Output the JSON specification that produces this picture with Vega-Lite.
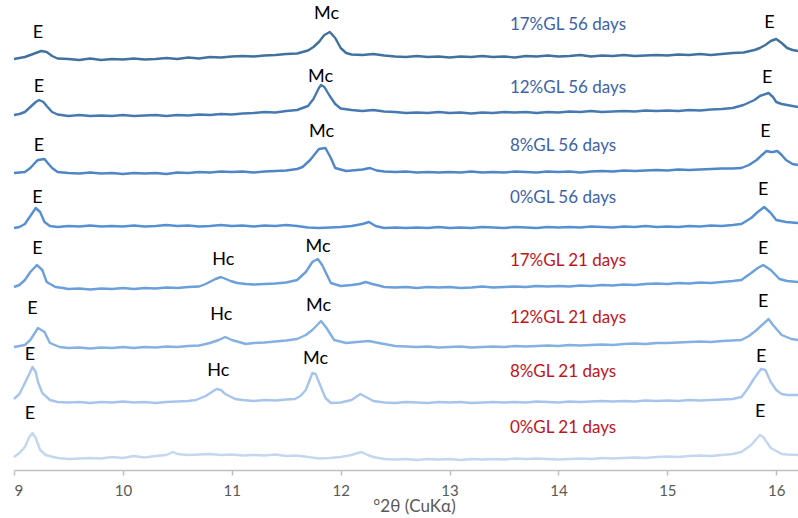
{
"$schema": "https://vega.github.io/schema/vega-lite/v6.json",
"width": 784, "height": 470,
"autosize": {"type": "none"},
"padding": {"left": 14, "top": 0, "right": 0, "bottom": 48},
"config": {"view": {"stroke": null}, "font": "Lato"},
"datasets": {
"traces": [
{"s":"17%GL 56 days","x":9.0,"y":411},{"s":"17%GL 56 days","x":9.1,"y":413},{"s":"17%GL 56 days","x":9.15,"y":415},{"s":"17%GL 56 days","x":9.2,"y":417},{"s":"17%GL 56 days","x":9.25,"y":419},{"s":"17%GL 56 days","x":9.3,"y":418},{"s":"17%GL 56 days","x":9.35,"y":414},{"s":"17%GL 56 days","x":9.4,"y":411.5},{"s":"17%GL 56 days","x":9.5,"y":411},{"s":"17%GL 56 days","x":9.6,"y":410},{"s":"17%GL 56 days","x":9.7,"y":411.5},{"s":"17%GL 56 days","x":9.8,"y":410},{"s":"17%GL 56 days","x":9.9,"y":411},{"s":"17%GL 56 days","x":10.0,"y":410.5},{"s":"17%GL 56 days","x":10.1,"y":411.5},{"s":"17%GL 56 days","x":10.2,"y":410.5},{"s":"17%GL 56 days","x":10.3,"y":411},{"s":"17%GL 56 days","x":10.4,"y":412},{"s":"17%GL 56 days","x":10.5,"y":411},{"s":"17%GL 56 days","x":10.6,"y":412.5},{"s":"17%GL 56 days","x":10.7,"y":411.5},{"s":"17%GL 56 days","x":10.8,"y":413},{"s":"17%GL 56 days","x":10.9,"y":412.5},{"s":"17%GL 56 days","x":11.0,"y":413.5},{"s":"17%GL 56 days","x":11.1,"y":414},{"s":"17%GL 56 days","x":11.2,"y":413.5},{"s":"17%GL 56 days","x":11.3,"y":414.5},{"s":"17%GL 56 days","x":11.4,"y":415},{"s":"17%GL 56 days","x":11.5,"y":416},{"s":"17%GL 56 days","x":11.6,"y":416.5},{"s":"17%GL 56 days","x":11.7,"y":419.5},{"s":"17%GL 56 days","x":11.75,"y":423},{"s":"17%GL 56 days","x":11.8,"y":428},{"s":"17%GL 56 days","x":11.85,"y":435},{"s":"17%GL 56 days","x":11.9,"y":438},{"s":"17%GL 56 days","x":11.95,"y":432},{"s":"17%GL 56 days","x":12.0,"y":422},{"s":"17%GL 56 days","x":12.05,"y":417},{"s":"17%GL 56 days","x":12.1,"y":415.5},{"s":"17%GL 56 days","x":12.2,"y":415},{"s":"17%GL 56 days","x":12.3,"y":416},{"s":"17%GL 56 days","x":12.4,"y":414.5},{"s":"17%GL 56 days","x":12.5,"y":413.5},{"s":"17%GL 56 days","x":12.6,"y":413},{"s":"17%GL 56 days","x":12.7,"y":414},{"s":"17%GL 56 days","x":12.8,"y":413},{"s":"17%GL 56 days","x":12.9,"y":413.5},{"s":"17%GL 56 days","x":13.0,"y":412.5},{"s":"17%GL 56 days","x":13.1,"y":413.5},{"s":"17%GL 56 days","x":13.2,"y":413},{"s":"17%GL 56 days","x":13.3,"y":414},{"s":"17%GL 56 days","x":13.4,"y":413},{"s":"17%GL 56 days","x":13.5,"y":413.5},{"s":"17%GL 56 days","x":13.6,"y":412.5},{"s":"17%GL 56 days","x":13.7,"y":414},{"s":"17%GL 56 days","x":13.8,"y":413.5},{"s":"17%GL 56 days","x":13.9,"y":414.5},{"s":"17%GL 56 days","x":14.0,"y":413.5},{"s":"17%GL 56 days","x":14.1,"y":414},{"s":"17%GL 56 days","x":14.2,"y":415},{"s":"17%GL 56 days","x":14.3,"y":413.5},{"s":"17%GL 56 days","x":14.4,"y":414.5},{"s":"17%GL 56 days","x":14.5,"y":414},{"s":"17%GL 56 days","x":14.6,"y":415},{"s":"17%GL 56 days","x":14.7,"y":414},{"s":"17%GL 56 days","x":14.8,"y":414.5},{"s":"17%GL 56 days","x":14.9,"y":415},{"s":"17%GL 56 days","x":15.0,"y":414.5},{"s":"17%GL 56 days","x":15.1,"y":415.5},{"s":"17%GL 56 days","x":15.2,"y":415},{"s":"17%GL 56 days","x":15.3,"y":416},{"s":"17%GL 56 days","x":15.4,"y":415},{"s":"17%GL 56 days","x":15.5,"y":416},{"s":"17%GL 56 days","x":15.6,"y":417},{"s":"17%GL 56 days","x":15.7,"y":417.5},{"s":"17%GL 56 days","x":15.8,"y":420},{"s":"17%GL 56 days","x":15.85,"y":422},{"s":"17%GL 56 days","x":15.9,"y":425},{"s":"17%GL 56 days","x":15.95,"y":429},{"s":"17%GL 56 days","x":16.0,"y":431},{"s":"17%GL 56 days","x":16.05,"y":427},{"s":"17%GL 56 days","x":16.1,"y":422},{"s":"17%GL 56 days","x":16.15,"y":420},{"s":"17%GL 56 days","x":16.2,"y":419},

{"s":"12%GL 56 days","x":9.0,"y":355},{"s":"12%GL 56 days","x":9.05,"y":356},{"s":"12%GL 56 days","x":9.1,"y":358},{"s":"12%GL 56 days","x":9.15,"y":363},{"s":"12%GL 56 days","x":9.2,"y":368},{"s":"12%GL 56 days","x":9.23,"y":370},{"s":"12%GL 56 days","x":9.27,"y":368},{"s":"12%GL 56 days","x":9.3,"y":364},{"s":"12%GL 56 days","x":9.35,"y":358},{"s":"12%GL 56 days","x":9.4,"y":355.5},{"s":"12%GL 56 days","x":9.5,"y":354},{"s":"12%GL 56 days","x":9.6,"y":355},{"s":"12%GL 56 days","x":9.7,"y":354},{"s":"12%GL 56 days","x":9.8,"y":354.5},{"s":"12%GL 56 days","x":9.9,"y":354},{"s":"12%GL 56 days","x":10.0,"y":355},{"s":"12%GL 56 days","x":10.1,"y":354},{"s":"12%GL 56 days","x":10.2,"y":354.5},{"s":"12%GL 56 days","x":10.3,"y":355},{"s":"12%GL 56 days","x":10.4,"y":354},{"s":"12%GL 56 days","x":10.5,"y":355},{"s":"12%GL 56 days","x":10.6,"y":354.5},{"s":"12%GL 56 days","x":10.7,"y":355.5},{"s":"12%GL 56 days","x":10.8,"y":355},{"s":"12%GL 56 days","x":10.9,"y":356},{"s":"12%GL 56 days","x":11.0,"y":355.5},{"s":"12%GL 56 days","x":11.1,"y":356.5},{"s":"12%GL 56 days","x":11.2,"y":357},{"s":"12%GL 56 days","x":11.3,"y":358},{"s":"12%GL 56 days","x":11.4,"y":357.5},{"s":"12%GL 56 days","x":11.5,"y":359},{"s":"12%GL 56 days","x":11.6,"y":360},{"s":"12%GL 56 days","x":11.7,"y":364},{"s":"12%GL 56 days","x":11.75,"y":371},{"s":"12%GL 56 days","x":11.8,"y":382},{"s":"12%GL 56 days","x":11.82,"y":385},{"s":"12%GL 56 days","x":11.85,"y":383},{"s":"12%GL 56 days","x":11.9,"y":374},{"s":"12%GL 56 days","x":11.95,"y":366},{"s":"12%GL 56 days","x":12.0,"y":361.5},{"s":"12%GL 56 days","x":12.1,"y":360},{"s":"12%GL 56 days","x":12.2,"y":359},{"s":"12%GL 56 days","x":12.3,"y":360},{"s":"12%GL 56 days","x":12.4,"y":358.5},{"s":"12%GL 56 days","x":12.5,"y":358},{"s":"12%GL 56 days","x":12.6,"y":357},{"s":"12%GL 56 days","x":12.7,"y":357.5},{"s":"12%GL 56 days","x":12.8,"y":357},{"s":"12%GL 56 days","x":12.9,"y":358},{"s":"12%GL 56 days","x":13.0,"y":357},{"s":"12%GL 56 days","x":13.1,"y":357.5},{"s":"12%GL 56 days","x":13.2,"y":356.5},{"s":"12%GL 56 days","x":13.3,"y":357.5},{"s":"12%GL 56 days","x":13.4,"y":357},{"s":"12%GL 56 days","x":13.5,"y":358},{"s":"12%GL 56 days","x":13.6,"y":357.5},{"s":"12%GL 56 days","x":13.7,"y":358},{"s":"12%GL 56 days","x":13.8,"y":357},{"s":"12%GL 56 days","x":13.9,"y":358},{"s":"12%GL 56 days","x":14.0,"y":357.5},{"s":"12%GL 56 days","x":14.1,"y":358.5},{"s":"12%GL 56 days","x":14.2,"y":358},{"s":"12%GL 56 days","x":14.3,"y":359},{"s":"12%GL 56 days","x":14.4,"y":358},{"s":"12%GL 56 days","x":14.5,"y":358.5},{"s":"12%GL 56 days","x":14.6,"y":359},{"s":"12%GL 56 days","x":14.7,"y":358.5},{"s":"12%GL 56 days","x":14.8,"y":359.5},{"s":"12%GL 56 days","x":14.9,"y":359},{"s":"12%GL 56 days","x":15.0,"y":359.5},{"s":"12%GL 56 days","x":15.1,"y":359},{"s":"12%GL 56 days","x":15.2,"y":360},{"s":"12%GL 56 days","x":15.3,"y":359.5},{"s":"12%GL 56 days","x":15.4,"y":360.5},{"s":"12%GL 56 days","x":15.5,"y":361},{"s":"12%GL 56 days","x":15.6,"y":362},{"s":"12%GL 56 days","x":15.7,"y":365},{"s":"12%GL 56 days","x":15.8,"y":370},{"s":"12%GL 56 days","x":15.85,"y":374},{"s":"12%GL 56 days","x":15.93,"y":377},{"s":"12%GL 56 days","x":15.97,"y":373},{"s":"12%GL 56 days","x":16.0,"y":368},{"s":"12%GL 56 days","x":16.05,"y":366},{"s":"12%GL 56 days","x":16.1,"y":365},{"s":"12%GL 56 days","x":16.2,"y":363},

{"s":"8%GL 56 days","x":9.0,"y":297},{"s":"8%GL 56 days","x":9.1,"y":298},{"s":"8%GL 56 days","x":9.15,"y":302},{"s":"8%GL 56 days","x":9.2,"y":308},{"s":"8%GL 56 days","x":9.22,"y":310},{"s":"8%GL 56 days","x":9.28,"y":311},{"s":"8%GL 56 days","x":9.31,"y":307},{"s":"8%GL 56 days","x":9.35,"y":302},{"s":"8%GL 56 days","x":9.4,"y":298},{"s":"8%GL 56 days","x":9.5,"y":297},{"s":"8%GL 56 days","x":9.6,"y":296.5},{"s":"8%GL 56 days","x":9.7,"y":297.5},{"s":"8%GL 56 days","x":9.8,"y":296.5},{"s":"8%GL 56 days","x":9.9,"y":297},{"s":"8%GL 56 days","x":10.0,"y":296},{"s":"8%GL 56 days","x":10.1,"y":297},{"s":"8%GL 56 days","x":10.2,"y":296.5},{"s":"8%GL 56 days","x":10.3,"y":297},{"s":"8%GL 56 days","x":10.4,"y":296},{"s":"8%GL 56 days","x":10.5,"y":297.5},{"s":"8%GL 56 days","x":10.6,"y":297},{"s":"8%GL 56 days","x":10.7,"y":298},{"s":"8%GL 56 days","x":10.8,"y":297.5},{"s":"8%GL 56 days","x":10.9,"y":298.5},{"s":"8%GL 56 days","x":11.0,"y":298},{"s":"8%GL 56 days","x":11.1,"y":298.5},{"s":"8%GL 56 days","x":11.2,"y":297.5},{"s":"8%GL 56 days","x":11.3,"y":298.5},{"s":"8%GL 56 days","x":11.4,"y":299},{"s":"8%GL 56 days","x":11.5,"y":299.5},{"s":"8%GL 56 days","x":11.6,"y":301},{"s":"8%GL 56 days","x":11.65,"y":303},{"s":"8%GL 56 days","x":11.72,"y":310},{"s":"8%GL 56 days","x":11.8,"y":321},{"s":"8%GL 56 days","x":11.86,"y":322},{"s":"8%GL 56 days","x":11.91,"y":312},{"s":"8%GL 56 days","x":11.95,"y":302},{"s":"8%GL 56 days","x":12.05,"y":299},{"s":"8%GL 56 days","x":12.1,"y":299.5},{"s":"8%GL 56 days","x":12.2,"y":300.5},{"s":"8%GL 56 days","x":12.27,"y":302},{"s":"8%GL 56 days","x":12.33,"y":299.5},{"s":"8%GL 56 days","x":12.4,"y":298.5},{"s":"8%GL 56 days","x":12.5,"y":298},{"s":"8%GL 56 days","x":12.6,"y":298.5},{"s":"8%GL 56 days","x":12.7,"y":297.5},{"s":"8%GL 56 days","x":12.8,"y":298},{"s":"8%GL 56 days","x":12.9,"y":297.5},{"s":"8%GL 56 days","x":13.0,"y":298},{"s":"8%GL 56 days","x":13.1,"y":297.5},{"s":"8%GL 56 days","x":13.2,"y":298.5},{"s":"8%GL 56 days","x":13.3,"y":297.5},{"s":"8%GL 56 days","x":13.4,"y":298},{"s":"8%GL 56 days","x":13.5,"y":297.5},{"s":"8%GL 56 days","x":13.6,"y":298.5},{"s":"8%GL 56 days","x":13.7,"y":298},{"s":"8%GL 56 days","x":13.8,"y":297.5},{"s":"8%GL 56 days","x":13.9,"y":298.5},{"s":"8%GL 56 days","x":14.0,"y":298},{"s":"8%GL 56 days","x":14.1,"y":298.5},{"s":"8%GL 56 days","x":14.2,"y":297.5},{"s":"8%GL 56 days","x":14.3,"y":298.5},{"s":"8%GL 56 days","x":14.4,"y":299},{"s":"8%GL 56 days","x":14.5,"y":298.5},{"s":"8%GL 56 days","x":14.6,"y":299.5},{"s":"8%GL 56 days","x":14.7,"y":299},{"s":"8%GL 56 days","x":14.8,"y":299.5},{"s":"8%GL 56 days","x":14.9,"y":300},{"s":"8%GL 56 days","x":15.0,"y":299.5},{"s":"8%GL 56 days","x":15.1,"y":300.5},{"s":"8%GL 56 days","x":15.2,"y":300},{"s":"8%GL 56 days","x":15.3,"y":300.5},{"s":"8%GL 56 days","x":15.4,"y":301},{"s":"8%GL 56 days","x":15.5,"y":301.5},{"s":"8%GL 56 days","x":15.6,"y":301.5},{"s":"8%GL 56 days","x":15.68,"y":302},{"s":"8%GL 56 days","x":15.75,"y":305},{"s":"8%GL 56 days","x":15.82,"y":310},{"s":"8%GL 56 days","x":15.91,"y":319},{"s":"8%GL 56 days","x":15.95,"y":318},{"s":"8%GL 56 days","x":15.97,"y":318},{"s":"8%GL 56 days","x":16.01,"y":319},{"s":"8%GL 56 days","x":16.05,"y":315},{"s":"8%GL 56 days","x":16.09,"y":310},{"s":"8%GL 56 days","x":16.15,"y":306},{"s":"8%GL 56 days","x":16.2,"y":305},

{"s":"0%GL 56 days","x":9.0,"y":242},{"s":"0%GL 56 days","x":9.05,"y":243},{"s":"0%GL 56 days","x":9.1,"y":246},{"s":"0%GL 56 days","x":9.15,"y":254},{"s":"0%GL 56 days","x":9.2,"y":262},{"s":"0%GL 56 days","x":9.24,"y":258},{"s":"0%GL 56 days","x":9.28,"y":248},{"s":"0%GL 56 days","x":9.33,"y":244},{"s":"0%GL 56 days","x":9.4,"y":243},{"s":"0%GL 56 days","x":9.5,"y":244},{"s":"0%GL 56 days","x":9.6,"y":243.5},{"s":"0%GL 56 days","x":9.7,"y":244.5},{"s":"0%GL 56 days","x":9.8,"y":243.5},{"s":"0%GL 56 days","x":9.9,"y":244},{"s":"0%GL 56 days","x":10.0,"y":243.5},{"s":"0%GL 56 days","x":10.1,"y":244.5},{"s":"0%GL 56 days","x":10.2,"y":243.5},{"s":"0%GL 56 days","x":10.3,"y":244},{"s":"0%GL 56 days","x":10.4,"y":245},{"s":"0%GL 56 days","x":10.5,"y":244},{"s":"0%GL 56 days","x":10.6,"y":244.5},{"s":"0%GL 56 days","x":10.7,"y":243.5},{"s":"0%GL 56 days","x":10.8,"y":244},{"s":"0%GL 56 days","x":10.9,"y":245},{"s":"0%GL 56 days","x":11.0,"y":244},{"s":"0%GL 56 days","x":11.1,"y":244.5},{"s":"0%GL 56 days","x":11.2,"y":243.5},{"s":"0%GL 56 days","x":11.3,"y":244.5},{"s":"0%GL 56 days","x":11.4,"y":244},{"s":"0%GL 56 days","x":11.5,"y":245},{"s":"0%GL 56 days","x":11.6,"y":244},{"s":"0%GL 56 days","x":11.7,"y":242.5},{"s":"0%GL 56 days","x":11.8,"y":242},{"s":"0%GL 56 days","x":11.9,"y":242.5},{"s":"0%GL 56 days","x":12.0,"y":243},{"s":"0%GL 56 days","x":12.1,"y":244},{"s":"0%GL 56 days","x":12.15,"y":245},{"s":"0%GL 56 days","x":12.2,"y":246},{"s":"0%GL 56 days","x":12.26,"y":248},{"s":"0%GL 56 days","x":12.32,"y":244},{"s":"0%GL 56 days","x":12.4,"y":242},{"s":"0%GL 56 days","x":12.5,"y":242.5},{"s":"0%GL 56 days","x":12.6,"y":242},{"s":"0%GL 56 days","x":12.7,"y":242.5},{"s":"0%GL 56 days","x":12.8,"y":242},{"s":"0%GL 56 days","x":12.9,"y":243},{"s":"0%GL 56 days","x":13.0,"y":242},{"s":"0%GL 56 days","x":13.1,"y":242.5},{"s":"0%GL 56 days","x":13.2,"y":242},{"s":"0%GL 56 days","x":13.3,"y":243},{"s":"0%GL 56 days","x":13.4,"y":242.5},{"s":"0%GL 56 days","x":13.5,"y":242},{"s":"0%GL 56 days","x":13.6,"y":243},{"s":"0%GL 56 days","x":13.7,"y":242.5},{"s":"0%GL 56 days","x":13.8,"y":242},{"s":"0%GL 56 days","x":13.9,"y":243},{"s":"0%GL 56 days","x":14.0,"y":242.5},{"s":"0%GL 56 days","x":14.1,"y":243},{"s":"0%GL 56 days","x":14.2,"y":242.5},{"s":"0%GL 56 days","x":14.3,"y":243.5},{"s":"0%GL 56 days","x":14.4,"y":243},{"s":"0%GL 56 days","x":14.5,"y":242.5},{"s":"0%GL 56 days","x":14.6,"y":243.5},{"s":"0%GL 56 days","x":14.7,"y":243},{"s":"0%GL 56 days","x":14.8,"y":244},{"s":"0%GL 56 days","x":14.9,"y":243},{"s":"0%GL 56 days","x":15.0,"y":243.5},{"s":"0%GL 56 days","x":15.1,"y":243},{"s":"0%GL 56 days","x":15.2,"y":244},{"s":"0%GL 56 days","x":15.3,"y":243.5},{"s":"0%GL 56 days","x":15.4,"y":244.5},{"s":"0%GL 56 days","x":15.5,"y":244},{"s":"0%GL 56 days","x":15.6,"y":245},{"s":"0%GL 56 days","x":15.68,"y":246},{"s":"0%GL 56 days","x":15.77,"y":252},{"s":"0%GL 56 days","x":15.83,"y":258},{"s":"0%GL 56 days","x":15.89,"y":263},{"s":"0%GL 56 days","x":15.95,"y":257},{"s":"0%GL 56 days","x":16.0,"y":250},{"s":"0%GL 56 days","x":16.09,"y":248},{"s":"0%GL 56 days","x":16.2,"y":247},

{"s":"17%GL 21 days","x":9.0,"y":183},{"s":"17%GL 21 days","x":9.05,"y":185},{"s":"17%GL 21 days","x":9.1,"y":190},{"s":"17%GL 21 days","x":9.15,"y":198},{"s":"17%GL 21 days","x":9.21,"y":205},{"s":"17%GL 21 days","x":9.26,"y":200},{"s":"17%GL 21 days","x":9.3,"y":188},{"s":"17%GL 21 days","x":9.38,"y":183},{"s":"17%GL 21 days","x":9.45,"y":182},{"s":"17%GL 21 days","x":9.5,"y":181},{"s":"17%GL 21 days","x":9.6,"y":181.5},{"s":"17%GL 21 days","x":9.7,"y":180.5},{"s":"17%GL 21 days","x":9.8,"y":181.5},{"s":"17%GL 21 days","x":9.9,"y":181},{"s":"17%GL 21 days","x":10.0,"y":182},{"s":"17%GL 21 days","x":10.1,"y":181},{"s":"17%GL 21 days","x":10.2,"y":182},{"s":"17%GL 21 days","x":10.3,"y":181.5},{"s":"17%GL 21 days","x":10.4,"y":182.5},{"s":"17%GL 21 days","x":10.5,"y":182},{"s":"17%GL 21 days","x":10.6,"y":183},{"s":"17%GL 21 days","x":10.7,"y":183.5},{"s":"17%GL 21 days","x":10.76,"y":186},{"s":"17%GL 21 days","x":10.85,"y":191},{"s":"17%GL 21 days","x":10.9,"y":193},{"s":"17%GL 21 days","x":10.99,"y":189},{"s":"17%GL 21 days","x":11.05,"y":187},{"s":"17%GL 21 days","x":11.13,"y":186},{"s":"17%GL 21 days","x":11.2,"y":185.5},{"s":"17%GL 21 days","x":11.3,"y":186},{"s":"17%GL 21 days","x":11.4,"y":186.5},{"s":"17%GL 21 days","x":11.5,"y":187.5},{"s":"17%GL 21 days","x":11.6,"y":190},{"s":"17%GL 21 days","x":11.68,"y":198},{"s":"17%GL 21 days","x":11.74,"y":208},{"s":"17%GL 21 days","x":11.79,"y":211},{"s":"17%GL 21 days","x":11.83,"y":205},{"s":"17%GL 21 days","x":11.91,"y":187},{"s":"17%GL 21 days","x":12.0,"y":184},{"s":"17%GL 21 days","x":12.1,"y":185},{"s":"17%GL 21 days","x":12.17,"y":186},{"s":"17%GL 21 days","x":12.23,"y":188},{"s":"17%GL 21 days","x":12.29,"y":186},{"s":"17%GL 21 days","x":12.35,"y":184.5},{"s":"17%GL 21 days","x":12.4,"y":183},{"s":"17%GL 21 days","x":12.5,"y":182.5},{"s":"17%GL 21 days","x":12.6,"y":183},{"s":"17%GL 21 days","x":12.7,"y":182},{"s":"17%GL 21 days","x":12.8,"y":183},{"s":"17%GL 21 days","x":12.9,"y":182.5},{"s":"17%GL 21 days","x":13.0,"y":183},{"s":"17%GL 21 days","x":13.1,"y":182},{"s":"17%GL 21 days","x":13.2,"y":182.5},{"s":"17%GL 21 days","x":13.3,"y":183.5},{"s":"17%GL 21 days","x":13.4,"y":182.5},{"s":"17%GL 21 days","x":13.5,"y":183},{"s":"17%GL 21 days","x":13.6,"y":183.5},{"s":"17%GL 21 days","x":13.7,"y":183},{"s":"17%GL 21 days","x":13.8,"y":184},{"s":"17%GL 21 days","x":13.9,"y":183.5},{"s":"17%GL 21 days","x":14.0,"y":184},{"s":"17%GL 21 days","x":14.1,"y":183.5},{"s":"17%GL 21 days","x":14.2,"y":184.5},{"s":"17%GL 21 days","x":14.3,"y":184},{"s":"17%GL 21 days","x":14.4,"y":185},{"s":"17%GL 21 days","x":14.5,"y":184.5},{"s":"17%GL 21 days","x":14.6,"y":185.5},{"s":"17%GL 21 days","x":14.7,"y":185},{"s":"17%GL 21 days","x":14.8,"y":186},{"s":"17%GL 21 days","x":14.9,"y":186.5},{"s":"17%GL 21 days","x":15.0,"y":186},{"s":"17%GL 21 days","x":15.1,"y":187},{"s":"17%GL 21 days","x":15.2,"y":186.5},{"s":"17%GL 21 days","x":15.3,"y":187.5},{"s":"17%GL 21 days","x":15.4,"y":187},{"s":"17%GL 21 days","x":15.5,"y":188},{"s":"17%GL 21 days","x":15.6,"y":189},{"s":"17%GL 21 days","x":15.68,"y":190},{"s":"17%GL 21 days","x":15.77,"y":197},{"s":"17%GL 21 days","x":15.83,"y":202},{"s":"17%GL 21 days","x":15.88,"y":205},{"s":"17%GL 21 days","x":15.95,"y":200},{"s":"17%GL 21 days","x":16.03,"y":191},{"s":"17%GL 21 days","x":16.1,"y":189},{"s":"17%GL 21 days","x":16.2,"y":188},

{"s":"12%GL 21 days","x":9.0,"y":123},{"s":"12%GL 21 days","x":9.05,"y":124},{"s":"12%GL 21 days","x":9.1,"y":125},{"s":"12%GL 21 days","x":9.15,"y":130},{"s":"12%GL 21 days","x":9.22,"y":142},{"s":"12%GL 21 days","x":9.28,"y":138},{"s":"12%GL 21 days","x":9.33,"y":127},{"s":"12%GL 21 days","x":9.42,"y":123},{"s":"12%GL 21 days","x":9.5,"y":122},{"s":"12%GL 21 days","x":9.6,"y":122.5},{"s":"12%GL 21 days","x":9.7,"y":121.5},{"s":"12%GL 21 days","x":9.8,"y":122.5},{"s":"12%GL 21 days","x":9.9,"y":122},{"s":"12%GL 21 days","x":10.0,"y":123},{"s":"12%GL 21 days","x":10.1,"y":122},{"s":"12%GL 21 days","x":10.2,"y":123},{"s":"12%GL 21 days","x":10.3,"y":122.5},{"s":"12%GL 21 days","x":10.4,"y":123.5},{"s":"12%GL 21 days","x":10.5,"y":123},{"s":"12%GL 21 days","x":10.6,"y":124},{"s":"12%GL 21 days","x":10.7,"y":124.5},{"s":"12%GL 21 days","x":10.8,"y":127},{"s":"12%GL 21 days","x":10.88,"y":130},{"s":"12%GL 21 days","x":10.94,"y":133},{"s":"12%GL 21 days","x":11.0,"y":130},{"s":"12%GL 21 days","x":11.13,"y":126},{"s":"12%GL 21 days","x":11.2,"y":127},{"s":"12%GL 21 days","x":11.3,"y":127.5},{"s":"12%GL 21 days","x":11.4,"y":128.5},{"s":"12%GL 21 days","x":11.5,"y":129.5},{"s":"12%GL 21 days","x":11.6,"y":131},{"s":"12%GL 21 days","x":11.68,"y":135},{"s":"12%GL 21 days","x":11.74,"y":140},{"s":"12%GL 21 days","x":11.82,"y":149},{"s":"12%GL 21 days","x":11.87,"y":142},{"s":"12%GL 21 days","x":11.94,"y":130},{"s":"12%GL 21 days","x":12.05,"y":127},{"s":"12%GL 21 days","x":12.15,"y":128},{"s":"12%GL 21 days","x":12.26,"y":129},{"s":"12%GL 21 days","x":12.35,"y":127},{"s":"12%GL 21 days","x":12.4,"y":126},{"s":"12%GL 21 days","x":12.5,"y":124},{"s":"12%GL 21 days","x":12.6,"y":123.5},{"s":"12%GL 21 days","x":12.7,"y":123},{"s":"12%GL 21 days","x":12.8,"y":123.5},{"s":"12%GL 21 days","x":12.9,"y":122.5},{"s":"12%GL 21 days","x":13.0,"y":123},{"s":"12%GL 21 days","x":13.1,"y":123.5},{"s":"12%GL 21 days","x":13.2,"y":122.5},{"s":"12%GL 21 days","x":13.3,"y":123},{"s":"12%GL 21 days","x":13.4,"y":123.5},{"s":"12%GL 21 days","x":13.5,"y":123},{"s":"12%GL 21 days","x":13.6,"y":124},{"s":"12%GL 21 days","x":13.7,"y":123.5},{"s":"12%GL 21 days","x":13.8,"y":124},{"s":"12%GL 21 days","x":13.9,"y":124.5},{"s":"12%GL 21 days","x":14.0,"y":124},{"s":"12%GL 21 days","x":14.1,"y":125},{"s":"12%GL 21 days","x":14.2,"y":124.5},{"s":"12%GL 21 days","x":14.3,"y":125},{"s":"12%GL 21 days","x":14.4,"y":125.5},{"s":"12%GL 21 days","x":14.5,"y":125},{"s":"12%GL 21 days","x":14.6,"y":126},{"s":"12%GL 21 days","x":14.7,"y":126.5},{"s":"12%GL 21 days","x":14.8,"y":126},{"s":"12%GL 21 days","x":14.9,"y":127},{"s":"12%GL 21 days","x":15.0,"y":127},{"s":"12%GL 21 days","x":15.1,"y":127.5},{"s":"12%GL 21 days","x":15.2,"y":128},{"s":"12%GL 21 days","x":15.3,"y":128.5},{"s":"12%GL 21 days","x":15.4,"y":128},{"s":"12%GL 21 days","x":15.5,"y":129},{"s":"12%GL 21 days","x":15.6,"y":129.5},{"s":"12%GL 21 days","x":15.68,"y":130},{"s":"12%GL 21 days","x":15.75,"y":134},{"s":"12%GL 21 days","x":15.82,"y":140},{"s":"12%GL 21 days","x":15.93,"y":151},{"s":"12%GL 21 days","x":15.97,"y":145},{"s":"12%GL 21 days","x":16.05,"y":135},{"s":"12%GL 21 days","x":16.14,"y":131},{"s":"12%GL 21 days","x":16.2,"y":130},

{"s":"8%GL 21 days","x":9.0,"y":71},{"s":"8%GL 21 days","x":9.05,"y":76},{"s":"8%GL 21 days","x":9.1,"y":87},{"s":"8%GL 21 days","x":9.14,"y":96},{"s":"8%GL 21 days","x":9.17,"y":103},{"s":"8%GL 21 days","x":9.2,"y":98},{"s":"8%GL 21 days","x":9.22,"y":88},{"s":"8%GL 21 days","x":9.26,"y":77},{"s":"8%GL 21 days","x":9.33,"y":70},{"s":"8%GL 21 days","x":9.4,"y":68},{"s":"8%GL 21 days","x":9.5,"y":67.5},{"s":"8%GL 21 days","x":9.6,"y":68},{"s":"8%GL 21 days","x":9.7,"y":67},{"s":"8%GL 21 days","x":9.8,"y":68},{"s":"8%GL 21 days","x":9.9,"y":67.5},{"s":"8%GL 21 days","x":10.0,"y":68.5},{"s":"8%GL 21 days","x":10.1,"y":67.5},{"s":"8%GL 21 days","x":10.2,"y":68},{"s":"8%GL 21 days","x":10.3,"y":67},{"s":"8%GL 21 days","x":10.4,"y":68},{"s":"8%GL 21 days","x":10.5,"y":68.5},{"s":"8%GL 21 days","x":10.6,"y":69},{"s":"8%GL 21 days","x":10.67,"y":70},{"s":"8%GL 21 days","x":10.76,"y":74},{"s":"8%GL 21 days","x":10.86,"y":81},{"s":"8%GL 21 days","x":10.9,"y":80},{"s":"8%GL 21 days","x":10.94,"y":76},{"s":"8%GL 21 days","x":11.03,"y":71},{"s":"8%GL 21 days","x":11.1,"y":70},{"s":"8%GL 21 days","x":11.2,"y":69},{"s":"8%GL 21 days","x":11.3,"y":70},{"s":"8%GL 21 days","x":11.4,"y":69.5},{"s":"8%GL 21 days","x":11.5,"y":70.5},{"s":"8%GL 21 days","x":11.58,"y":71},{"s":"8%GL 21 days","x":11.63,"y":74},{"s":"8%GL 21 days","x":11.68,"y":80},{"s":"8%GL 21 days","x":11.74,"y":97},{"s":"8%GL 21 days","x":11.77,"y":96},{"s":"8%GL 21 days","x":11.8,"y":88},{"s":"8%GL 21 days","x":11.86,"y":72},{"s":"8%GL 21 days","x":11.91,"y":67},{"s":"8%GL 21 days","x":12.0,"y":67.5},{"s":"8%GL 21 days","x":12.1,"y":70},{"s":"8%GL 21 days","x":12.18,"y":76},{"s":"8%GL 21 days","x":12.25,"y":72},{"s":"8%GL 21 days","x":12.3,"y":69},{"s":"8%GL 21 days","x":12.4,"y":67.5},{"s":"8%GL 21 days","x":12.5,"y":67},{"s":"8%GL 21 days","x":12.6,"y":68},{"s":"8%GL 21 days","x":12.7,"y":67.5},{"s":"8%GL 21 days","x":12.8,"y":67},{"s":"8%GL 21 days","x":12.9,"y":68},{"s":"8%GL 21 days","x":13.0,"y":67.5},{"s":"8%GL 21 days","x":13.1,"y":68},{"s":"8%GL 21 days","x":13.2,"y":67},{"s":"8%GL 21 days","x":13.3,"y":67.5},{"s":"8%GL 21 days","x":13.4,"y":68},{"s":"8%GL 21 days","x":13.5,"y":67.5},{"s":"8%GL 21 days","x":13.6,"y":68},{"s":"8%GL 21 days","x":13.7,"y":67.5},{"s":"8%GL 21 days","x":13.8,"y":68.5},{"s":"8%GL 21 days","x":13.9,"y":68},{"s":"8%GL 21 days","x":14.0,"y":67.5},{"s":"8%GL 21 days","x":14.1,"y":68.5},{"s":"8%GL 21 days","x":14.2,"y":68},{"s":"8%GL 21 days","x":14.3,"y":68.5},{"s":"8%GL 21 days","x":14.4,"y":69},{"s":"8%GL 21 days","x":14.5,"y":68.5},{"s":"8%GL 21 days","x":14.6,"y":69},{"s":"8%GL 21 days","x":14.7,"y":68.5},{"s":"8%GL 21 days","x":14.8,"y":69.5},{"s":"8%GL 21 days","x":14.9,"y":69},{"s":"8%GL 21 days","x":15.0,"y":69.5},{"s":"8%GL 21 days","x":15.1,"y":69},{"s":"8%GL 21 days","x":15.2,"y":70},{"s":"8%GL 21 days","x":15.3,"y":69.5},{"s":"8%GL 21 days","x":15.4,"y":70},{"s":"8%GL 21 days","x":15.5,"y":70.5},{"s":"8%GL 21 days","x":15.6,"y":71},{"s":"8%GL 21 days","x":15.68,"y":73},{"s":"8%GL 21 days","x":15.73,"y":80},{"s":"8%GL 21 days","x":15.8,"y":92},{"s":"8%GL 21 days","x":15.86,"y":101},{"s":"8%GL 21 days","x":15.9,"y":100},{"s":"8%GL 21 days","x":15.95,"y":88},{"s":"8%GL 21 days","x":16.0,"y":80},{"s":"8%GL 21 days","x":16.05,"y":76},{"s":"8%GL 21 days","x":16.1,"y":75},{"s":"8%GL 21 days","x":16.2,"y":75},

{"s":"0%GL 21 days","x":9.0,"y":13},{"s":"0%GL 21 days","x":9.05,"y":17},{"s":"0%GL 21 days","x":9.1,"y":23},{"s":"0%GL 21 days","x":9.14,"y":33},{"s":"0%GL 21 days","x":9.17,"y":37},{"s":"0%GL 21 days","x":9.2,"y":32},{"s":"0%GL 21 days","x":9.24,"y":20},{"s":"0%GL 21 days","x":9.29,"y":15},{"s":"0%GL 21 days","x":9.36,"y":13},{"s":"0%GL 21 days","x":9.4,"y":12},{"s":"0%GL 21 days","x":9.5,"y":11},{"s":"0%GL 21 days","x":9.6,"y":11.5},{"s":"0%GL 21 days","x":9.7,"y":12},{"s":"0%GL 21 days","x":9.8,"y":11.5},{"s":"0%GL 21 days","x":9.9,"y":13},{"s":"0%GL 21 days","x":10.0,"y":12},{"s":"0%GL 21 days","x":10.1,"y":14},{"s":"0%GL 21 days","x":10.2,"y":12.5},{"s":"0%GL 21 days","x":10.3,"y":14},{"s":"0%GL 21 days","x":10.4,"y":15},{"s":"0%GL 21 days","x":10.46,"y":18},{"s":"0%GL 21 days","x":10.5,"y":16},{"s":"0%GL 21 days","x":10.6,"y":15},{"s":"0%GL 21 days","x":10.7,"y":15.5},{"s":"0%GL 21 days","x":10.8,"y":16},{"s":"0%GL 21 days","x":10.9,"y":15},{"s":"0%GL 21 days","x":11.0,"y":15.5},{"s":"0%GL 21 days","x":11.1,"y":14.5},{"s":"0%GL 21 days","x":11.2,"y":15},{"s":"0%GL 21 days","x":11.3,"y":14.5},{"s":"0%GL 21 days","x":11.4,"y":15.5},{"s":"0%GL 21 days","x":11.5,"y":14},{"s":"0%GL 21 days","x":11.6,"y":14.5},{"s":"0%GL 21 days","x":11.7,"y":13},{"s":"0%GL 21 days","x":11.8,"y":11.5},{"s":"0%GL 21 days","x":11.9,"y":12},{"s":"0%GL 21 days","x":12.0,"y":13},{"s":"0%GL 21 days","x":12.1,"y":15},{"s":"0%GL 21 days","x":12.19,"y":18},{"s":"0%GL 21 days","x":12.25,"y":15},{"s":"0%GL 21 days","x":12.3,"y":13},{"s":"0%GL 21 days","x":12.4,"y":11},{"s":"0%GL 21 days","x":12.5,"y":10.5},{"s":"0%GL 21 days","x":12.6,"y":11},{"s":"0%GL 21 days","x":12.7,"y":10},{"s":"0%GL 21 days","x":12.8,"y":11},{"s":"0%GL 21 days","x":12.9,"y":10.5},{"s":"0%GL 21 days","x":13.0,"y":11},{"s":"0%GL 21 days","x":13.1,"y":10},{"s":"0%GL 21 days","x":13.2,"y":11},{"s":"0%GL 21 days","x":13.3,"y":10.5},{"s":"0%GL 21 days","x":13.4,"y":11},{"s":"0%GL 21 days","x":13.5,"y":10.5},{"s":"0%GL 21 days","x":13.6,"y":11.5},{"s":"0%GL 21 days","x":13.7,"y":11},{"s":"0%GL 21 days","x":13.8,"y":11.5},{"s":"0%GL 21 days","x":13.9,"y":11},{"s":"0%GL 21 days","x":14.0,"y":10.5},{"s":"0%GL 21 days","x":14.1,"y":11},{"s":"0%GL 21 days","x":14.2,"y":11.5},{"s":"0%GL 21 days","x":14.3,"y":11},{"s":"0%GL 21 days","x":14.4,"y":12},{"s":"0%GL 21 days","x":14.5,"y":11.5},{"s":"0%GL 21 days","x":14.6,"y":12},{"s":"0%GL 21 days","x":14.7,"y":12.5},{"s":"0%GL 21 days","x":14.8,"y":12},{"s":"0%GL 21 days","x":14.9,"y":13},{"s":"0%GL 21 days","x":15.0,"y":13.5},{"s":"0%GL 21 days","x":15.1,"y":13},{"s":"0%GL 21 days","x":15.2,"y":14},{"s":"0%GL 21 days","x":15.3,"y":14.5},{"s":"0%GL 21 days","x":15.4,"y":14},{"s":"0%GL 21 days","x":15.5,"y":15},{"s":"0%GL 21 days","x":15.6,"y":16},{"s":"0%GL 21 days","x":15.68,"y":18},{"s":"0%GL 21 days","x":15.77,"y":25},{"s":"0%GL 21 days","x":15.85,"y":35},{"s":"0%GL 21 days","x":15.88,"y":33},{"s":"0%GL 21 days","x":15.95,"y":22},{"s":"0%GL 21 days","x":16.05,"y":16},{"s":"0%GL 21 days","x":16.1,"y":15.5},{"s":"0%GL 21 days","x":16.2,"y":15}
],
"peaks": [
{"t":"E","x":9.221,"y":437},{"t":"Mc","x":11.87,"y":456},{"t":"E","x":15.937,"y":447.5},
{"t":"E","x":9.23,"y":383},{"t":"Mc","x":11.815,"y":393},{"t":"E","x":15.918,"y":392},
{"t":"E","x":9.23,"y":324},{"t":"Mc","x":11.824,"y":338},{"t":"E","x":15.9,"y":338},
{"t":"E","x":9.216,"y":272},{"t":"E","x":15.881,"y":280},
{"t":"E","x":9.216,"y":221},{"t":"Hc","x":10.923,"y":210},{"t":"Mc","x":11.792,"y":223},{"t":"E","x":15.881,"y":221},
{"t":"E","x":9.17,"y":161},{"t":"Hc","x":10.904,"y":155},{"t":"Mc","x":11.797,"y":164},{"t":"E","x":15.881,"y":168},
{"t":"E","x":9.147,"y":115},{"t":"Hc","x":10.877,"y":99},{"t":"Mc","x":11.769,"y":111},{"t":"E","x":15.863,"y":113},
{"t":"E","x":9.147,"y":56},{"t":"E","x":15.854,"y":58}
],
"names": [
{"t":"17%GL 56 days","age":"56 days","x":13.554,"y":440},
{"t":"12%GL 56 days","age":"56 days","x":13.554,"y":377},
{"t":"8%GL 56 days","age":"56 days","x":13.554,"y":319},
{"t":"0%GL 56 days","age":"56 days","x":13.554,"y":267},
{"t":"17%GL 21 days","age":"21 days","x":13.554,"y":204},
{"t":"12%GL 21 days","age":"21 days","x":13.554,"y":147},
{"t":"8%GL 21 days","age":"21 days","x":13.554,"y":93},
{"t":"0%GL 21 days","age":"21 days","x":13.554,"y":37}
]
},
"resolve": {"scale": {"color": "independent"}},
"layer": [
{
"data": {"name": "traces"},
"mark": {"type": "line", "strokeWidth": 2.4, "strokeJoin": "round"},
"encoding": {
"x": {"field": "x", "type": "quantitative",
"scale": {"domain": [9, 16.2], "nice": false, "zero": false},
"axis": {"values": [9, 10, 11, 12, 13, 14, 15, 16], "format": "d", "grid": false, "domainColor": "#bfbfbf", "domainWidth": 1.5, "tickColor": "#bfbfbf", "tickWidth": 1.5, "tickSize": 5, "labelFont": "Lato", "labelFontSize": 15, "labelColor": "#595959", "labelPadding": 8, "title": "°2θ (CuKα)", "titleFont": "Lato", "titleFontSize": 17, "titleFontWeight": "normal", "titleColor": "#595959", "titleY": 41, "titleX": 400, "titleBaseline": "alphabetic"}},
"y": {"field": "y", "type": "quantitative", "scale": {"domain": [0, 470], "nice": false, "zero": false}, "axis": null},
"color": {"field": "s", "type": "nominal", "legend": null,
"scale": {"domain": ["17%GL 56 days", "12%GL 56 days", "8%GL 56 days", "0%GL 56 days", "17%GL 21 days", "12%GL 21 days", "8%GL 21 days", "0%GL 21 days"],
"range": ["#41719f", "#4679b2", "#4e86c6", "#5690d2", "#6a9fdb", "#84b0e2", "#a7c5ec", "#c4d7f1"]}}
}
},
{
"data": {"name": "peaks"},
"mark": {"type": "text", "font": "Lato", "fontSize": 18, "color": "#000000", "align": "center", "baseline": "middle"},
"encoding": {
"x": {"field": "x", "type": "quantitative"},
"y": {"field": "y", "type": "quantitative"},
"text": {"field": "t"}
}
},
{
"data": {"name": "names"},
"mark": {"type": "text", "font": "Lato", "fontSize": 17, "align": "left", "baseline": "alphabetic"},
"encoding": {
"x": {"field": "x", "type": "quantitative"},
"y": {"field": "y", "type": "quantitative"},
"text": {"field": "t"},
"color": {"field": "age", "type": "nominal", "legend": null, "scale": {"domain": ["56 days", "21 days"], "range": ["#3d62a6", "#c0141c"]}}
}
}
]
}
